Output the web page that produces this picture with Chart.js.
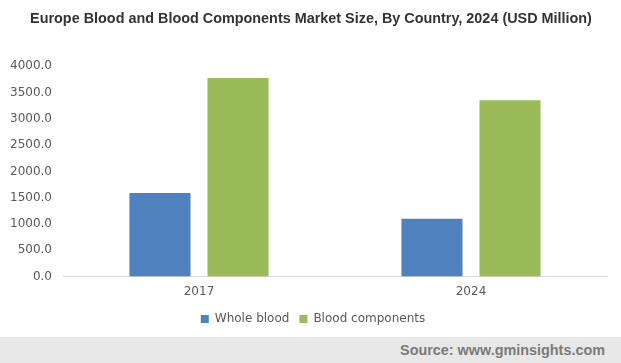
<!DOCTYPE html>
<html>
<head>
<meta charset="utf-8">
<script src="https://cdn.jsdelivr.net/npm/chart.js@4/dist/chart.umd.min.js"></script>
<style>
  body { margin: 0; background: #fff; }
  #wrap { position: relative; width: 621px; height: 363px; }
  #chartBox { position: absolute; left: 0; top: 0; width: 621px; height: 337px; }
  #source {
    position: absolute; left: 0; top: 337px; width: 621px; height: 26px;
    background: #e8e8e8; color: #7a7a7a;
    font: bold 14.4px "Liberation Sans", Arial, sans-serif;
    text-align: right; line-height: 26px; box-sizing: border-box; padding-right: 16px;
  }
</style>
</head>
<body>
<div id="wrap">
  <div id="chartBox"><canvas id="grafico"></canvas></div>
  <div id="source">Source: www.gminsights.com</div>
</div>
<script>
// datos
const years = ['2017', '2024'];
const wholeBlood = [1590, 1100];
const bloodComponents = [3775, 3355];
const yTicks = [0, 500, 1000, 1500, 2000, 2500, 3000, 3500, 4000];

// centra título y leyenda un poco más a la derecha, como en el original
const desplazarCajas = {
    id: 'desplazarCajas',
    afterLayout(chart) {
        if (chart.titleBlock) chart.titleBlock.left += 15;
        if (chart.legend) chart.legend.left += 19;
    }
};

const ctx = document.getElementById('grafico');
new Chart(ctx.getContext('2d'), {
    type: 'bar',
    data: {
        labels: years,
        datasets: [
            { label: 'Whole blood', data: wholeBlood, backgroundColor: '#4f81bd' },
            { label: 'Blood components', data: bloodComponents, backgroundColor: '#9bbb59' }
        ]
    },
    options: {
        responsive: true,
        maintainAspectRatio: false,
        animation: false,
        categoryPercentage: 0.574,
        barPercentage: 0.782,
        layout: { padding: { left: 0, right: 14, top: 0, bottom: 2 } },
        plugins: {
            title: {
                display: true,
                text: 'Europe Blood and Blood Components Market Size, By Country, 2024 (USD Million)',
                color: '#333',
                font: { family: '"Liberation Sans", Arial, sans-serif', size: 14.4, weight: 'bold' },
                padding: { top: 10, bottom: 39 }
            },
            legend: {
                position: 'bottom',
                labels: {
                    color: '#595959',
                    font: { family: '"DejaVu Sans", Verdana, sans-serif', size: 12 },
                    boxWidth: 8,
                    boxHeight: 8,
                    padding: 10
                }
            },
            tooltip: { enabled: false }
        },
        scales: {
            x: {
                afterFit: (scale) => { scale.height = scale.height - 4; },
                grid: { display: false, drawTicks: false },
                border: { color: '#d9d9d9' },
                ticks: {
                    color: '#595959',
                    padding: 8,
                    font: { family: '"DejaVu Sans", Verdana, sans-serif', size: 12 }
                }
            },
            y: {
                min: 0,
                max: 4000,
                afterBuildTicks: (scale) => { scale.ticks = yTicks.map(v => ({ value: v })); },
                afterFit: (scale) => { scale.width = 63; },
                grid: { display: false, drawTicks: false },
                border: { display: false },
                ticks: {
                    color: '#595959',
                    padding: 11,
                    font: { family: '"DejaVu Sans", Verdana, sans-serif', size: 12 },
                    callback: (v) => Number(v).toFixed(1)
                }
            }
        }
    },
    plugins: [desplazarCajas]
});
</script>
</body>
</html>
